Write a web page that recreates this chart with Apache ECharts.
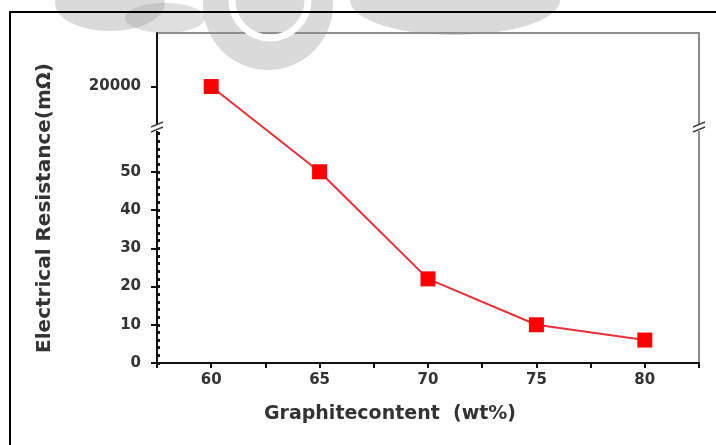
<!DOCTYPE html>
<html>
<head>
<meta charset="utf-8">
<script src="https://cdn.jsdelivr.net/npm/echarts@6/dist/echarts.min.js"></script>
<style>
  html, body { margin: 0; padding: 0; background: #fff; }
  #chart { width: 716px; height: 445px; }
</style>
</head>
<body>
<div id="chart"></div>
<script>
const graphite = [60, 65, 70, 75, 80];
const resistance = [20000, 50, 22, 10, 6];
const yTickValues = [0, 10, 20, 30, 40, 50, 20000];
const yMinorTickValues = [0, 2, 4, 6, 8, 10, 12, 14, 16, 18, 20, 22, 24, 26, 28, 30, 32, 34, 36, 38, 40, 42, 44, 46, 48, 50, 52, 54, 56, 58, 60];
const xTickLabels = [60, 65, 70, 75, 80];
const xTitle = 'Graphitecontent  (wt%)';
const yTitle = 'Electrical Resistance(mΩ)';

const chart = echarts.init(document.getElementById('chart'), null, { renderer: 'canvas' });
const FONT = 'DejaVu Sans';
const breakCfg = [{ start: 61, end: 19990, gap: '1.5%' }];

function breakMark(x, y) {
  return [
    { type: 'rect', z: 60, shape: { x: x - 4, y: y - 3, width: 8, height: 6 }, style: { fill: '#fff' } },
    { type: 'line', z: 61, shape: { x1: x - 6, y1: y - 1, x2: x + 6, y2: y - 6 }, style: { stroke: '#444', lineWidth: 1.5 } },
    { type: 'line', z: 61, shape: { x1: x - 6, y1: y + 4, x2: x + 6, y2: y - 1 }, style: { stroke: '#444', lineWidth: 1.5 } }
  ];
}

chart.setOption({
  animation: false,
  backgroundColor: '#fff',
  grid: {
    left: 157, right: 17, top: 33, bottom: 82,
    show: true, borderColor: '#8c8c8c', borderWidth: 2, backgroundColor: 'transparent'
  },
  xAxis: {
    type: 'value', min: 57.5, max: 82.5, interval: 2.5,
    name: xTitle, nameLocation: 'middle', nameGap: 42,
    nameTextStyle: { fontFamily: FONT, fontWeight: 'bold', fontSize: 19, color: '#333', padding: [0, 76, 0, 0] },
    axisLine: { lineStyle: { color: '#111', width: 2 } },
    axisTick: { show: true, length: 5, lineStyle: { color: '#111', width: 2 } },
    axisLabel: {
      fontFamily: FONT, fontWeight: 'bold', fontSize: 15, color: '#333', margin: 10,
      formatter: v => (xTickLabels.indexOf(v) >= 0 ? String(v) : '')
    },
    splitLine: { show: false }
  },
  yAxis: [{
    type: 'value', min: 0, max: 20014,
    breaks: breakCfg,
    breakArea: { show: false },
    name: yTitle, nameLocation: 'middle', nameGap: 102, nameRotate: 90,
    nameTextStyle: { fontFamily: FONT, fontWeight: 'bold', fontSize: 20, color: '#333', padding: [0, 20, 0, 0] },
    axisLine: { show: true, lineStyle: { color: '#111', width: 2 } },
    axisTick: { show: true, length: 6, customValues: yTickValues, lineStyle: { color: '#111', width: 2 } },
    axisLabel: {
      customValues: yTickValues, fontFamily: FONT, fontWeight: 'bold', fontSize: 15, color: '#333', margin: 16,
      formatter: v => String(v)
    },
    splitLine: { show: false }
  }, {
    type: 'value', min: 0, max: 20014, position: 'left',
    breaks: breakCfg,
    breakArea: { show: false },
    axisLine: { show: false },
    axisTick: { show: true, inside: true, length: 3, customValues: yMinorTickValues, lineStyle: { color: '#111', width: 3 } },
    axisLabel: { show: false },
    splitLine: { show: false }
  }],
  series: [{
    type: 'line',
    data: graphite.map((g, i) => [g, resistance[i]]),
    symbol: 'rect', symbolSize: 15,
    itemStyle: { color: '#ff0000' },
    lineStyle: { color: '#e8303a', width: 2 },
    z: 5
  }],
  graphic: [
    { type: 'rect', z: 100, shape: { x: 10, y: 12, width: 720, height: 440 }, style: { fill: 'none', stroke: '#000', lineWidth: 2 } },
    { type: 'ellipse', z: 90, shape: { cx: 110, cy: 3, rx: 55, ry: 28 }, style: { fill: 'rgba(150,150,150,0.35)' } },
    { type: 'ellipse', z: 90, shape: { cx: 165, cy: 18, rx: 40, ry: 15 }, style: { fill: 'rgba(150,150,150,0.3)' } },
    { type: 'circle', z: 90, shape: { cx: 268, cy: 5, r: 65 }, style: { fill: 'rgba(150,150,150,0.35)' } },
    { type: 'circle', z: 91, shape: { cx: 270, cy: 0, r: 38 }, style: { fill: 'none', stroke: '#fff', lineWidth: 7 } },
    { type: 'ellipse', z: 90, shape: { cx: 455, cy: 0, rx: 105, ry: 35 }, style: { fill: 'rgba(150,150,150,0.35)' } }
  ].concat(breakMark(157, 128), breakMark(699, 128))
});
</script>
</body>
</html>
